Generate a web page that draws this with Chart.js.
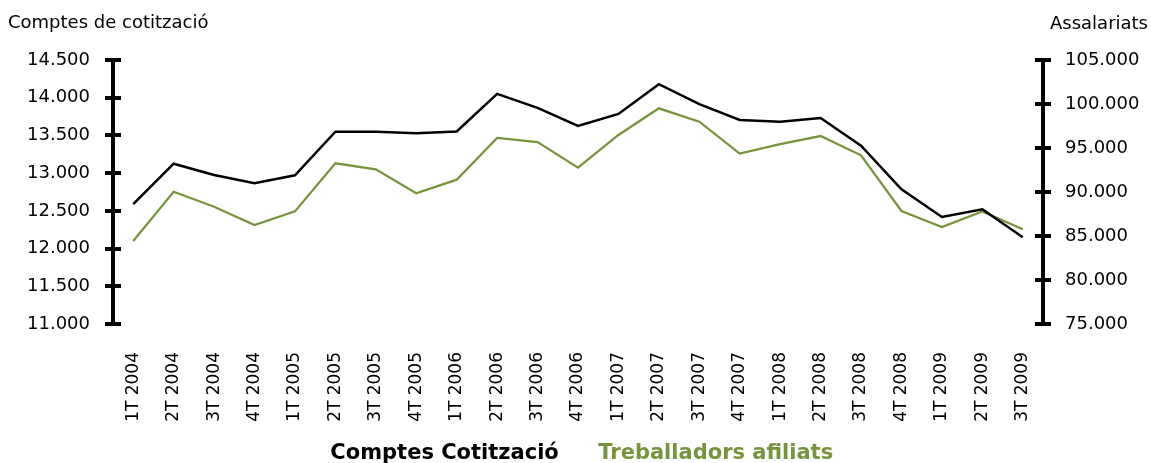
<!DOCTYPE html>
<html>
<head>
<meta charset="utf-8">
<script src="https://cdn.jsdelivr.net/npm/chart.js@4/dist/chart.umd.min.js"></script>
<style>
  html, body { margin: 0; padding: 0; background: #fff; }
  #wrap { width: 1151px; height: 463px; }
</style>
</head>
<body>
<div id="wrap"><canvas id="chart"></canvas></div>
<script>
// trimestres
var labels = ['1T 2004', '2T 2004', '3T 2004', '4T 2004',
              '1T 2005', '2T 2005', '3T 2005', '4T 2005',
              '1T 2006', '2T 2006', '3T 2006', '4T 2006',
              '1T 2007', '2T 2007', '3T 2007', '4T 2007',
              '1T 2008', '2T 2008', '3T 2008', '4T 2008',
              '1T 2009', '2T 2009', '3T 2009'];

// eix esquerre
var comptes = [12590, 13125, 12975, 12865, 12972, 13550, 13550, 13530,
               13552, 14050, 13865, 13625, 13785, 14180, 13915, 13705,
               13680, 13730, 13364, 12786, 12419, 12521, 12150];

// eix dret
var treballadors = [84430, 90030, 88330, 86250, 87800, 93260, 92580, 89850,
                    91400, 96140, 95680, 92760, 96480, 99510, 97990, 94360,
                    95450, 96360, 94170, 87840, 86020, 87800, 85760];

var leftTitle = 'Comptes de cotització';
var rightTitle = 'Assalariats';
var seriesNames = ['Comptes Cotització', 'Treballadors afiliats'];

var FONT = '"DejaVu Sans", Verdana, sans-serif';
var green = '#77933C';

function fmt(v) {
    return Math.round(v).toString().replace(/\B(?=(\d{3})+(?!\d))/g, '.');
}

// marques creuant l'eix i titols dels eixos
var axisExtras = {
    id: 'axisExtras',
    afterDraw: function(chart) {
        var ctx = chart.ctx;
        ['y', 'y1'].forEach(function(id) {
            var s = chart.scales[id];
            var x = id == 'y' ? s.right : s.left;
            ctx.save();
            ctx.strokeStyle = '#000';
            ctx.lineWidth = 4;
            s.ticks.forEach(function(t) {
                var py = Math.round(s.getPixelForValue(t.value));
                ctx.beginPath();
                ctx.moveTo(x - 8, py);
                ctx.lineTo(x + 8, py);
                ctx.stroke();
            });
            ctx.restore();
        });
        ctx.save();
        ctx.fillStyle = '#000';
        ctx.font = '18px ' + FONT;
        ctx.textBaseline = 'alphabetic';
        ctx.textAlign = 'left';
        ctx.fillText(leftTitle, 8, 28);
        ctx.textAlign = 'right';
        ctx.fillText(rightTitle, 1148, 29);
        ctx.restore();
    }
};

var ctx0 = document.getElementById('chart');
var myChart = new Chart(ctx0, {
    type: 'line',
    data: {
        labels: labels,
        datasets: [{
            label: seriesNames[0],
            data: comptes,
            yAxisID: 'y',
            borderColor: '#000',
            borderWidth: 2.5,
            pointRadius: 0,
            tension: 0,
            fill: false
        }, {
            label: seriesNames[1],
            data: treballadors,
            yAxisID: 'y1',
            borderColor: green,
            borderWidth: 2.25,
            pointRadius: 0,
            tension: 0,
            fill: false
        }]
    },
    options: {
        responsive: true,
        maintainAspectRatio: false,
        animation: false,
        // left/right shifted so the legend text sits where the original does
        layout: { padding: { top: 60, left: -3.5, right: 3.5, bottom: -11 } },
        plugins: {
            tooltip: { enabled: false },
            legend: {
                position: 'bottom',
                labels: {
                    boxWidth: 9,
                    padding: 20,
                    font: { family: FONT, size: 21, weight: 'bold' },
                    generateLabels: function(chart) {
                        return chart.data.datasets.map(function(ds, i) {
                            return {
                                text: ds.label,
                                fontColor: ds.borderColor,
                                fillStyle: 'transparent',
                                strokeStyle: 'transparent',
                                lineWidth: 0,
                                hidden: false,
                                datasetIndex: i
                            };
                        });
                    }
                }
            }
        },
        scales: {
            x: {
                offset: true,
                grid: { display: false, drawTicks: false },
                border: { display: false },
                ticks: {
                    color: '#000',
                    minRotation: 90,
                    maxRotation: 90,
                    autoSkip: false,
                    padding: 28,
                    font: { family: FONT, size: 17 }
                },
                afterFit: function(s) { s.height = 99; }
            },
            y: {
                position: 'left',
                min: 11000,
                max: 14500,
                grid: { display: false, drawTicks: false },
                border: { display: true, color: '#000', width: 4 },
                ticks: {
                    stepSize: 500,
                    color: '#000',
                    padding: 23,
                    font: { family: FONT, size: 18 },
                    callback: function(v) { return fmt(v); }
                },
                afterFit: function(s) { s.width = 116.5; }
            },
            y1: {
                position: 'right',
                min: 75000,
                max: 105000,
                grid: { display: false, drawTicks: false },
                border: { display: true, color: '#000', width: 4 },
                ticks: {
                    stepSize: 5000,
                    color: '#000',
                    padding: 22,
                    font: { family: FONT, size: 18 },
                    callback: function(v) { return fmt(v); }
                },
                afterFit: function(s) { s.width = 104.5; }
            }
        }
    },
    plugins: [axisExtras]
});
</script>
</body>
</html>
